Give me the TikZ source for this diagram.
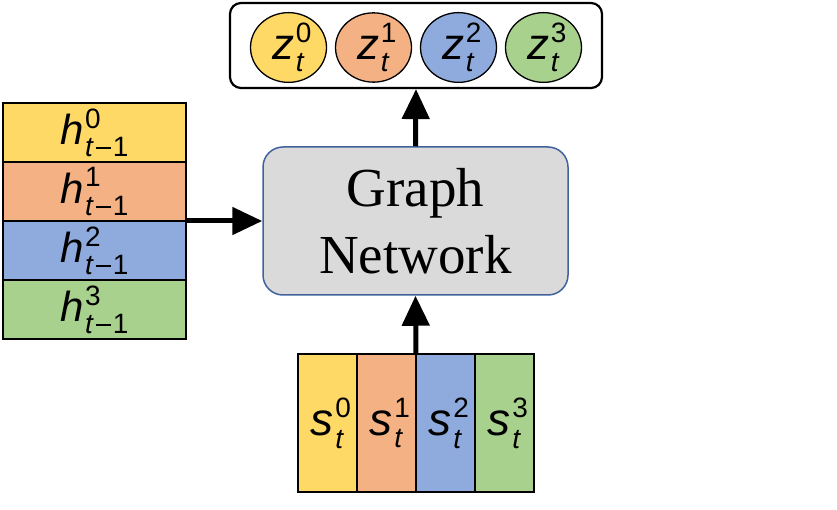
\documentclass[tikz,border=0pt]{standalone}
\usepackage{fontspec}
\setmainfont{Liberation Serif}
\newfontfamily\lsans{Liberation Sans}
\usetikzlibrary{arrows.meta,shapes.geometric}
\definecolor{cyel}{HTML}{FFD966}
\definecolor{cora}{HTML}{F4B183}
\definecolor{cblu}{HTML}{8FAADC}
\definecolor{cgre}{HTML}{A9D18E}
\definecolor{gnfill}{HTML}{DADADA}
\definecolor{gnborder}{HTML}{41629C}
\newcommand{\symss}[5]{{\lsans\fontsize{#4}{#4}\selectfont\textit{#1}\kern0.03em\rlap{\raisebox{0.40em}{\fontsize{#5}{#5}\selectfont #2}}\raisebox{-0.27em}{\fontsize{#5}{#5}\selectfont #3}}}
\newcommand{\mymin}{\kern0.06em\rule[0.26em]{0.56em}{0.075em}\kern0.06em}
\begin{document}
\begin{tikzpicture}[x=1pt,y=-1pt,
  cell/.style={draw=black,line width=1.3pt,inner sep=0pt,outer sep=0pt},
  zcirc/.style={ellipse,draw=black,line width=1.3pt,minimum width=76pt,minimum height=66pt,inner sep=0pt},
  bigarrow/.style={line width=5pt,-{Triangle[length=30pt,width=27pt]}}]
\useasboundingbox (0,0) rectangle (837,510);
% z outer box
\node[draw=black,line width=2.2pt,rounded corners=11pt,minimum width=372pt,minimum height=85pt,inner sep=0pt] (zbox) at (416,45.5) {};
\node[zcirc,fill=cyel] (z0) at (288.5,47.5) {\symss{z}{0}{\textit{t}}{44}{28}};
\node[zcirc,fill=cora] (z1) at (373.5,47.5) {\symss{z}{1}{\textit{t}}{44}{28}};
\node[zcirc,fill=cblu] (z2) at (458.5,47.5) {\symss{z}{2}{\textit{t}}{44}{28}};
\node[zcirc,fill=cgre] (z3) at (543.5,47.5) {\symss{z}{3}{\textit{t}}{44}{28}};
% graph network
\node[draw=gnborder,fill=gnfill,line width=1.5pt,rounded corners=20pt,minimum width=305pt,minimum height=148pt,inner sep=0pt,align=center,font=\fontsize{55}{67}\selectfont] (gn) at (415.5,221) {Graph\\Network};
% h stack
\node[cell,fill=cyel,minimum width=183pt,minimum height=59pt] (h0) at (94.5,132.5) {\symss{h}{0}{\textit{t}\mymin1}{42}{28}};
\node[cell,fill=cora,minimum width=183pt,minimum height=59pt] (h1) at (94.5,191.5) {\symss{h}{1}{\textit{t}\mymin1}{42}{28}};
\node[cell,fill=cblu,minimum width=183pt,minimum height=59pt] (h2) at (94.5,250.5) {\symss{h}{2}{\textit{t}\mymin1}{42}{28}};
\node[cell,fill=cgre,minimum width=183pt,minimum height=59pt] (h3) at (94.5,309.5) {\symss{h}{3}{\textit{t}\mymin1}{42}{28}};
% s stack
\node[cell,fill=cyel,minimum width=59pt,minimum height=138pt] (s0) at (327.5,423) {\symss{s}{0}{\textit{t}}{46}{28}};
\node[cell,fill=cora,minimum width=59pt,minimum height=138pt] (s1) at (386.5,423) {\symss{s}{1}{\textit{t}}{46}{28}};
\node[cell,fill=cblu,minimum width=59pt,minimum height=138pt] (s2) at (445.5,423) {\symss{s}{2}{\textit{t}}{46}{28}};
\node[cell,fill=cgre,minimum width=59pt,minimum height=138pt] (s3) at (504.5,423) {\symss{s}{3}{\textit{t}}{46}{28}};
% arrows
\draw[bigarrow] (gn.north) -- (zbox.south);
\draw[bigarrow] (h1.south east) -- (gn.west);
\draw[bigarrow] (s1.north east) -- (gn.south);
\end{tikzpicture}
\end{document}
